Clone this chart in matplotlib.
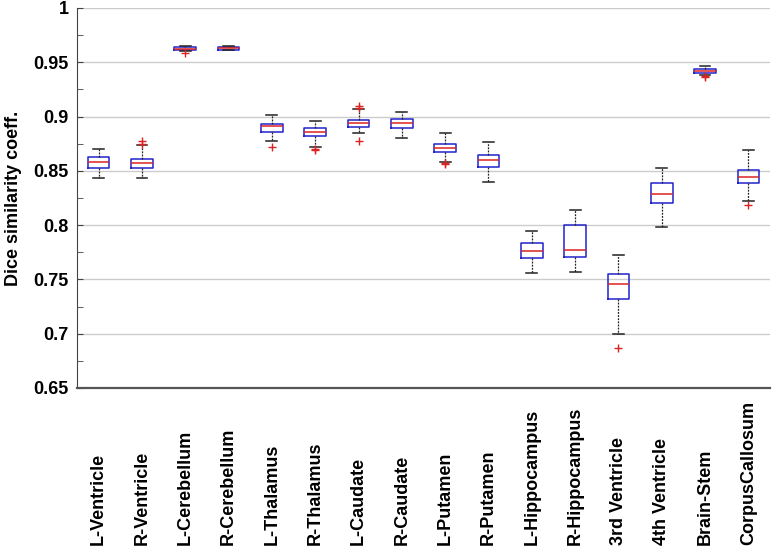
import matplotlib
matplotlib.use("Agg")
import matplotlib.pyplot as plt
from matplotlib.ticker import MultipleLocator
import matplotlib.transforms as mtransforms

categories = ["L-Ventricle", "R-Ventricle", "L-Cerebellum", "R-Cerebellum",
              "L-Thalamus", "R-Thalamus", "L-Caudate", "R-Caudate",
              "L-Putamen", "R-Putamen", "L-Hippocampus", "R-Hippocampus",
              "3rd Ventricle", "4th Ventricle", "Brain-Stem", "CorpusCallosum"]

whisker_low = [0.8430, 0.8436, 0.9605, 0.9612, 0.8779, 0.8720, 0.8852, 0.8802,
               0.8577, 0.8399, 0.7556, 0.7566, 0.7001, 0.7984, 0.9383, 0.8225]
q1 = [0.8528, 0.8522, 0.9612, 0.9616, 0.8861, 0.8818, 0.8903, 0.8898,
      0.8671, 0.8534, 0.7700, 0.7707, 0.7322, 0.8207, 0.9398, 0.8385]
median = [0.8583, 0.8568, 0.9625, 0.9630, 0.8913, 0.8861, 0.8937, 0.8937,
          0.8711, 0.8601, 0.7758, 0.7767, 0.7456, 0.8289, 0.9417, 0.8445]
q3 = [0.8626, 0.8607, 0.9640, 0.9643, 0.8931, 0.8898, 0.8967, 0.8974,
      0.8751, 0.8647, 0.7831, 0.8005, 0.7551, 0.8390, 0.9435, 0.8506]
whisker_high = [0.8705, 0.8736, 0.9646, 0.9648, 0.9010, 0.8962, 0.9072, 0.9038,
                0.8852, 0.8766, 0.7945, 0.8140, 0.7721, 0.8525, 0.9469, 0.8690]
outliers = [[], [0.8775, 0.8750], [0.9590], [],
            [0.8720], [0.8690, 0.8705], [0.9096, 0.9080, 0.8775], [],
            [0.8559, 0.8568], [], [], [],
            [0.6864], [], [0.9362, 0.9370], [0.8183]]

yticks = [0.65, 0.7, 0.75, 0.8, 0.85, 0.9, 0.95, 1]
ytick_labels = ["0.65", "0.7", "0.75", "0.8", "0.85", "0.9", "0.95", "1"]

plt.rcParams['font.family'] = ['Liberation Sans', 'DejaVu Sans']

fig = plt.figure(figsize=(7.73, 5.49), dpi=100)
W, H = 773, 549
ax = fig.add_axes([77 / W, (H - 388) / H, (770 - 77) / W, (388 - 8) / H])

stats = []
for i, name in enumerate(categories):
    stats.append(dict(label=name, whislo=whisker_low[i], q1=q1[i], med=median[i],
                      q3=q3[i], whishi=whisker_high[i], fliers=outliers[i]))

positions = list(range(1, len(categories) + 1))
ax.bxp(stats, positions=positions, widths=0.5, showfliers=True,
       boxprops=dict(color='#2222cc', linewidth=1.1),
       medianprops=dict(color='#dd2222', linewidth=1.1),
       whiskerprops=dict(color='#222222', linewidth=0.9, linestyle=(0, (1.5, 1.0))),
       capprops=dict(color='#222222', linewidth=1.1),
       capwidths=0.25,
       flierprops=dict(marker='+', markeredgecolor='#dd2222', markersize=6,
                       markeredgewidth=1.0, linestyle='none'),
       zorder=3)

ax.set_xlim(0.5, 16.5)
ax.set_ylim(0.65, 1.0)
ax.set_yticks(yticks)
ax.set_yticklabels(ytick_labels, fontsize=13, fontweight='bold')
ax.yaxis.set_minor_locator(MultipleLocator(0.025))
ax.tick_params(axis='y', which='both', direction='in', length=4, color='#444444', pad=6)
ax.set_xticks([])
ax.grid(axis='y', color='#cccccc', linewidth=1.0, zorder=0)
ax.set_axisbelow(True)
for s in ['top', 'right']:
    ax.spines[s].set_visible(False)
ax.spines['left'].set_color('#444444')
ax.spines['bottom'].set_color('#555555')
ax.spines['bottom'].set_linewidth(1.6)

ax.set_ylabel("Dice similarity coeff.", fontsize=13, fontweight='bold', labelpad=8)

trans = mtransforms.blended_transform_factory(ax.transData, fig.transFigure)
for i, name in enumerate(categories):
    ax.text(positions[i], 4 / H, name, rotation=90, ha='center', va='bottom',
            fontsize=13, fontweight='bold', transform=trans, clip_on=False)

fig.savefig("out.png", dpi=100)
